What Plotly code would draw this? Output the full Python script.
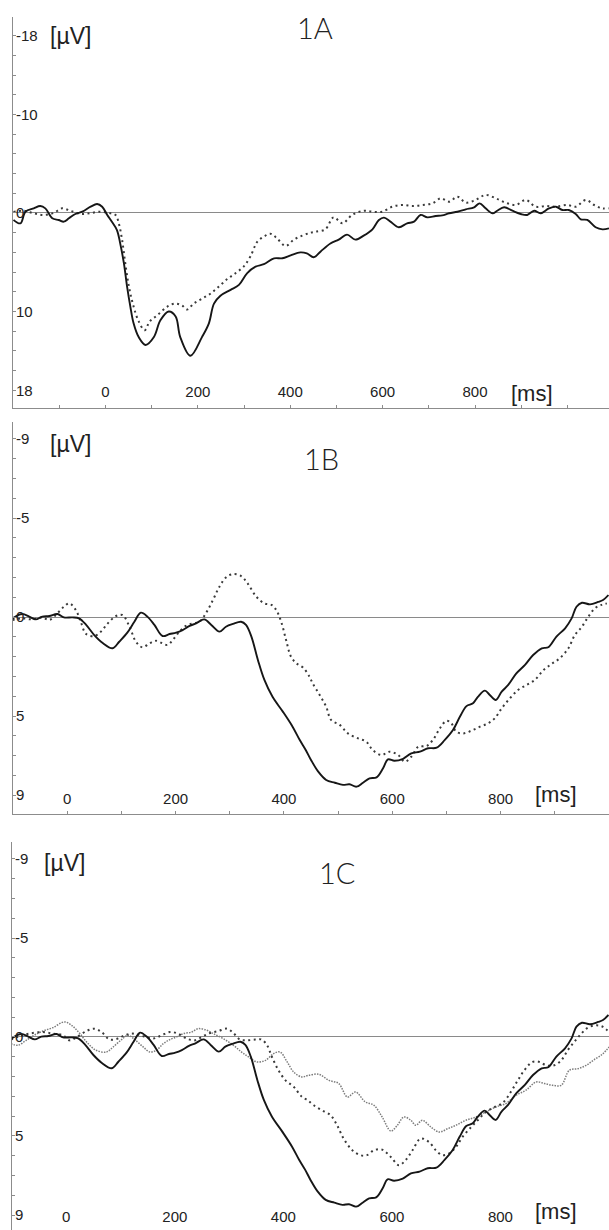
import plotly.graph_objects as go

# ---------------- Panel 1A ----------------
A_solid_t = [-199, -184, -173, -155, -141, -130, -115, -101, -90, -79, -65, -50, -32, -18, -7, 4, 14, 25, 32, 40,
             47, 54, 61, 72, 87, 105, 119, 137, 152, 162, 184, 209, 224, 235, 249, 271, 289, 307, 325, 343,
             365, 383, 401, 422, 436, 451, 466, 487, 505, 523, 541, 559, 578, 592, 603, 617, 635, 653, 668, 682,
             697, 715, 729, 744, 762, 780, 798, 810, 823, 838, 848, 863, 881, 899, 913, 928, 942, 960, 975, 989,
             1003, 1018, 1029, 1043, 1061, 1076, 1090]
A_solid_v = [0.7, 1.05, -0.13, -0.47, -0.71, -0.47, 0.54, 0.71, 0.88, 0.54, 0.1, -0.13, -0.64, -0.91, -0.64, 0.2, 0.88, 1.73, 3.08, 5.1,
             7.5, 9.5, 11.2, 12.6, 13.4, 12.6, 10.9, 10.0, 10.5, 12.6, 14.5, 12.6, 11.2, 9.2, 8.4, 7.8, 7.3, 6.1, 5.45, 5.2,
             4.6, 4.6, 4.3, 4.0, 4.1, 4.5, 3.9, 3.1, 2.7, 2.2, 2.7, 2.3, 1.66, 0.71, 0.47, 0.88, 1.45, 1.05, 0.88, 0.2,
             0.44, 0.3, 0.24, 0.03, -0.13, -0.37, -0.58, -0.98, -0.47, 0.03, -0.23, -0.58, -0.23, 0.1, 0.2, -0.23, 0.03, -0.47, -0.64, -0.3,
             -0.3, 0.1, 0.64, 0.71, 1.45, 1.66, 1.56]

A_dot_t = [-199, -177, -155, -134, -112, -94, -76, -54, -32, -11, 11, 22, 29, 36, 43, 51, 61, 72, 85, 96,
           112, 134, 152, 166, 177, 191, 209, 227, 245, 264, 282, 300, 314, 329, 343, 357, 372, 390, 408, 426,
           444, 455, 476, 494, 513, 534, 559, 578, 599, 621, 643, 664, 686, 708, 726, 744, 762, 780, 801, 823,
           845, 866, 888, 910, 931, 953, 975, 1000, 1018, 1040, 1058, 1076, 1090]
A_dot_v = [-0.1, -0.23, 0.03, 0.2, 0.0, -0.47, -0.23, 0.1, 0.0, -0.13, 0.03, 0.2, 1.05, 2.7, 5.1, 7.5, 9.5, 11.0, 11.9, 11.0,
           10.4, 9.5, 9.2, 9.4, 9.8, 9.2, 8.7, 8.2, 7.5, 6.7, 6.1, 5.4, 4.4, 2.9, 2.4, 2.1, 2.6, 3.35, 2.7, 2.3,
           2.0, 1.9, 1.66, 0.44, 1.05, 0.2, -0.23, -0.13, -0.13, -0.64, -0.81, -0.71, -0.81, -0.98, -1.49, -1.15, -1.66, -1.05, -1.32, -1.83,
           -1.49, -1.05, -0.81, -1.32, -0.64, -0.71, -0.64, -0.81, -0.64, -1.32, -0.81, -0.47, -0.47]

# ---------------- Panel 1B ----------------
B_solid_t = [-101, -83, -70, -58, -46, -33, -18, -6, 10, 22, 35, 50, 65, 84, 96, 111, 124, 136, 148, 161,
             176, 189, 201, 213, 226, 238, 253, 266, 281, 293, 306, 321, 330, 340, 352, 364, 379, 398, 416, 429,
             440, 450, 463, 478, 494, 509, 521, 534, 546, 558, 571, 583, 592, 604, 620, 635, 651, 666, 682, 697,
             712, 725, 737, 749, 758, 771, 780, 791, 802, 814, 829, 845, 860, 876, 888, 903, 919, 931, 940, 950,
             965, 980, 989, 999]
B_solid_v = [0.07, -0.15, -0.02, 0.12, -0.02, -0.05, -0.15, 0.02, 0.02, 0.07, 0.4, 0.91, 1.3, 1.58, 1.25, 0.79, 0.24, -0.22, -0.02, 0.4,
             0.96, 0.86, 0.79, 0.66, 0.45, 0.32, 0.12, 0.4, 0.74, 0.49, 0.35, 0.24, 0.4, 0.99, 2.17, 3.18, 4.03, 4.78, 5.54, 6.2,
             6.7, 7.22, 7.8, 8.23, 8.37, 8.48, 8.45, 8.57, 8.37, 8.15, 8.1, 7.64, 7.19, 7.26, 7.16, 6.89, 6.8, 6.63, 6.6, 6.21,
             5.71, 5.03, 4.5, 4.36, 4.03, 3.72, 3.94, 4.19, 3.77, 3.43, 2.85, 2.42, 1.92, 1.58, 1.53, 0.99, 0.57, 0.07, -0.52, -0.72,
             -0.64, -0.76, -0.86, -1.11]

B_dot_t = [-101, -83, -64, -46, -33, -18, -6, 4, 16, 25, 35, 50, 62, 75, 90, 102, 115, 127, 139, 152,
           164, 176, 185, 195, 207, 219, 232, 244, 256, 269, 281, 293, 306, 321, 333, 349, 364, 377, 386, 395,
           404, 413, 423, 435, 447, 453, 466, 478, 487, 503, 518, 537, 552, 564, 580, 595, 611, 623, 635, 648,
           663, 675, 688, 700, 709, 718, 731, 746, 762, 777, 789, 802, 817, 832, 848, 863, 879, 894, 909, 925,
           937, 950, 962, 974, 986, 996]
B_dot_v = [0.15, 0.07, 0.12, 0.02, 0.15, -0.19, -0.52, -0.69, -0.35, 0.24, 0.86, 0.96, 0.74, 0.32, -0.05, -0.1, 0.49, 1.25, 1.53, 1.33,
           1.2, 1.33, 1.41, 1.16, 0.74, 0.45, 0.32, 0.24, -0.19, -0.86, -1.53, -2.0, -2.17, -2.07, -1.7, -1.03, -0.69, -0.61, -0.35, 0.24,
           1.16, 2.0, 2.34, 2.55, 3.0, 3.35, 3.94, 4.53, 5.2, 5.45, 5.88, 6.13, 6.3, 6.72, 6.97, 6.8, 6.97, 7.31, 7.06, 6.55,
           6.52, 6.21, 5.62, 5.24, 5.37, 5.79, 5.88, 5.74, 5.54, 5.37, 5.12, 4.61, 4.11, 3.69, 3.43, 3.18, 2.68, 2.37, 2.09, 1.58,
           0.91, 0.49, -0.02, -0.44, -0.61, -0.69]

# ---------------- Panel 1C ----------------
C_solid_t = B_solid_t   # same waveform as the solid curve of 1B
C_solid_v = B_solid_v

C_dash_t = [-102, -86, -68, -43, -25, -6, 6, 18, 37, 52, 65, 80, 95, 108, 123, 142, 160, 176, 191, 206,
            222, 237, 252, 265, 280, 296, 308, 320, 333, 348, 360, 370, 379, 391, 404, 419, 434, 445, 456, 471,
            487, 499, 511, 527, 542, 554, 567, 582, 598, 613, 625, 638, 653, 668, 681, 693, 705, 718, 730, 746,
            758, 773, 789, 804, 819, 832, 844, 859, 872, 884, 899, 912, 924, 936, 949, 961, 977, 989, 1000]
C_dash_v = [0.13, -0.04, -0.17, -0.25, -0.17, -0.09, 0.17, 0.03, -0.3, -0.42, -0.25, 0.13, 0.08, -0.09, -0.17, -0.04, 0.08, -0.09, -0.25, -0.17,
            0.08, 0.17, -0.04, -0.2, -0.3, -0.42, -0.2, 0.13, 0.17, 0.13, 0.13, 0.42, 1.01, 1.68, 2.19, 2.51, 3.02, 3.2, 3.45, 3.7,
            3.95, 4.46, 5.13, 5.72, 5.97, 5.97, 5.72, 5.69, 6.06, 6.48, 6.23, 5.72, 5.13, 5.3, 5.72, 5.97, 5.89, 5.56, 5.05, 4.55,
            4.21, 3.79, 3.54, 3.33, 2.78, 2.19, 1.68, 1.26, 1.26, 1.43, 1.43, 1.18, 0.67, 0.25, -0.17, -0.47, -0.59, -0.51, -0.25]

C_fine_t = [-102, -89, -74, -59, -43, -25, -3, 12, 25, 40, 55, 74, 86, 102, 114, 126, 142, 154, 166, 179,
            191, 203, 216, 231, 243, 259, 271, 289, 308, 323, 336, 351, 367, 382, 394, 407, 419, 434, 445, 465,
            484, 502, 518, 533, 551, 567, 582, 598, 610, 622, 635, 644, 656, 672, 687, 703, 718, 736, 755, 773,
            791, 810, 829, 847, 866, 881, 896, 912, 927, 943, 958, 973, 989, 1000]
C_fine_v = [0.33, 0.42, 0.17, -0.09, -0.3, -0.47, -0.76, -0.54, -0.17, 0.33, 0.67, 0.76, 0.51, 0.13, -0.09, 0.13, 0.51, 0.76, 0.67, 0.33,
            0.13, 0.0, -0.17, -0.25, -0.42, -0.34, -0.17, 0.08, 0.42, 0.76, 1.01, 1.26, 1.18, 0.84, 0.76, 1.26, 1.77, 2.02, 1.95, 1.88,
            2.19, 2.35, 3.03, 2.78, 3.28, 3.45, 4.04, 4.75, 4.46, 4.04, 4.21, 4.46, 4.21, 4.55, 4.8, 4.63, 4.46, 4.21, 4.04, 3.79,
            3.54, 3.36, 2.94, 2.69, 2.27, 2.35, 2.44, 2.44, 1.68, 1.6, 1.43, 1.14, 0.84, 0.51]

# ---------------- Axis ticks / labels ----------------
A_xtick_vals = list(range(-200, 1100, 100))
A_xtick_text = ["" if (v < 0 or v > 800 or v % 200) else str(v) for v in A_xtick_vals]
BC_xtick_vals = list(range(-100, 1001, 100))
BC_xtick_text = ["" if (v < 0 or v > 800 or v % 200) else str(v) for v in BC_xtick_vals]
A_ytick_vals = list(range(-18, 19, 2))
A_ytick_labels = [-18, -10, 0, 10, 18]
A_ytick_text = [str(v) if v in A_ytick_labels else "" for v in A_ytick_vals]
BC_ytick_vals = list(range(-9, 10))
BC_ytick_labels = [-9, -5, 0, 5, 9]
BC_ytick_text = [str(v) if v in BC_ytick_labels else "" for v in BC_ytick_vals]
panel_titles = ["1A", "1B", "1C"]

SOLID = dict(color="#161616", width=1.9)
DOTS = dict(color="#3a3a3a", width=2.0, dash="2px,3.5px")
FINE = dict(color="#7c7c7c", width=1.5, dash="1.5px,1.2px")

fig = go.Figure()
fig.add_trace(go.Scatter(x=A_dot_t, y=A_dot_v, mode="lines", line=dict(**DOTS, shape="spline"), xaxis="x", yaxis="y"))
fig.add_trace(go.Scatter(x=A_solid_t, y=A_solid_v, mode="lines", line=dict(**SOLID, shape="spline"), xaxis="x", yaxis="y"))
fig.add_trace(go.Scatter(x=B_dot_t, y=B_dot_v, mode="lines", line=dict(**DOTS, shape="spline"), xaxis="x2", yaxis="y2"))
fig.add_trace(go.Scatter(x=B_solid_t, y=B_solid_v, mode="lines", line=dict(**SOLID, shape="spline"), xaxis="x2", yaxis="y2"))
fig.add_trace(go.Scatter(x=C_fine_t, y=C_fine_v, mode="lines", line=dict(**FINE, shape="spline"), xaxis="x3", yaxis="y3"))
fig.add_trace(go.Scatter(x=C_dash_t, y=C_dash_v, mode="lines", line=dict(**DOTS, shape="spline"), xaxis="x3", yaxis="y3"))
fig.add_trace(go.Scatter(x=C_solid_t, y=C_solid_v, mode="lines", line=dict(**SOLID, shape="spline"), xaxis="x3", yaxis="y3"))
# empty traces that only register the overlay label axes (x4..x6) with plotly
for xa, ya in (("x4", "y"), ("x5", "y2"), ("x6", "y3")):
    fig.add_trace(go.Scatter(x=[], y=[], mode="lines", xaxis=xa, yaxis=ya, hoverinfo="skip", showlegend=False))

TICKFONT = dict(family="Liberation Sans, Arial, sans-serif", size=15, color="#222")
AXC = "#8c8c8c"
H = 1230.0
W = 609.0

def xax(domain_left, rng, vals, anchor, show_line=True):
    # axis line + tick marks only; labels come from the overlay axis below
    return dict(domain=[domain_left, 1.0], range=rng, anchor=anchor, showgrid=False, zeroline=False,
                showline=show_line, linecolor=AXC, linewidth=1, automargin=False,
                ticks="inside" if show_line else "", ticklen=3, tickcolor=AXC,
                tickmode="array", tickvals=vals, showticklabels=False)

def xlab(base, rng, vals, text, label_top_px):
    # tick labels of the time axis, drawn just above the bottom axis line
    return dict(overlaying=base, anchor="free", position=1 - label_top_px / H, side="bottom",
                range=rng, showgrid=False, zeroline=False, showline=False, ticks="", automargin=False,
                tickmode="array", tickvals=vals, ticktext=text, tickfont=TICKFONT)

def yax(domain, rng, vals, text, anchor):
    return dict(domain=domain, range=rng, anchor=anchor, showgrid=False, automargin=False,
                zeroline=True, zerolinecolor="#8a8a8a", zerolinewidth=1,
                showline=True, linecolor=AXC, linewidth=1, ticks="inside", ticklen=3, tickcolor=AXC,
                tickmode="array", tickvals=vals, ticktext=text,
                ticklabelposition="inside", tickfont=TICKFONT)

fig.update_layout(
    width=609, height=1230, margin=dict(l=0, r=0, t=0, b=0, pad=0, autoexpand=False),
    paper_bgcolor="white", plot_bgcolor="white", showlegend=False,
    xaxis=xax(13 / W, [-200, 1090], A_xtick_vals, "y"),
    yaxis=yax([1 - 408 / H, 1 - 17 / H], [19.8, -19.9], A_ytick_vals, A_ytick_text, "x"),
    xaxis2=xax(13 / W, [-100, 1000], BC_xtick_vals, "y2"),
    yaxis2=yax([1 - 814 / H, 1 - 422 / H], [9.95, -9.85], BC_ytick_vals, BC_ytick_text, "x2"),
    xaxis3=xax(12 / W, [-100, 1000], BC_xtick_vals, "y3", show_line=False),
    yaxis3=yax([0, 1 - 842 / H], [9.75, -9.85], BC_ytick_vals, BC_ytick_text, "x3"),
    xaxis4=xlab("x", [-200, 1090], A_xtick_vals, A_xtick_text, 381),
    xaxis5=xlab("x2", [-100, 1000], BC_xtick_vals, BC_xtick_text, 788),
    xaxis6=xlab("x3", [-100, 1000], BC_xtick_vals, BC_xtick_text, 1206),
)

UNITFONT = dict(family="Liberation Sans, Arial, sans-serif", size=23, color="#222")
MSFONT = dict(family="Liberation Sans, Arial, sans-serif", size=22, color="#222")
TITLEFONT = dict(family="Lato, Open Sans, sans-serif", size=29, color="#222", weight=300)
ann = [
    # panel 1A
    dict(x=-76, y=-18.0, xref="x", yref="y", text="[µV]", font=UNITFONT),
    dict(x=923, y=18.3, xref="x", yref="y", text="[ms]", font=MSFONT),
    dict(x=453, y=-18.8, xref="x", yref="y", text=panel_titles[0], font=TITLEFONT),
    # panel 1B
    dict(x=7, y=-8.75, xref="x2", yref="y2", text="[µV]", font=UNITFONT),
    dict(x=902, y=8.95, xref="x2", yref="y2", text="[ms]", font=MSFONT),
    dict(x=469, y=-8.0, xref="x2", yref="y2", text=panel_titles[1], font=TITLEFONT),
    # panel 1C
    dict(x=-3, y=-8.8, xref="x3", yref="y3", text="[µV]", font=UNITFONT),
    dict(x=903, y=8.8, xref="x3", yref="y3", text="[ms]", font=MSFONT),
    dict(x=498, y=-8.33, xref="x3", yref="y3", text=panel_titles[2], font=TITLEFONT),
]
for a in ann:
    a.update(showarrow=False, xanchor="center", yanchor="middle")
fig.update_layout(annotations=ann)

fig.write_html("out.html", config={"displayModeBar": False},
               post_script="document.body.style.margin='0px';")
